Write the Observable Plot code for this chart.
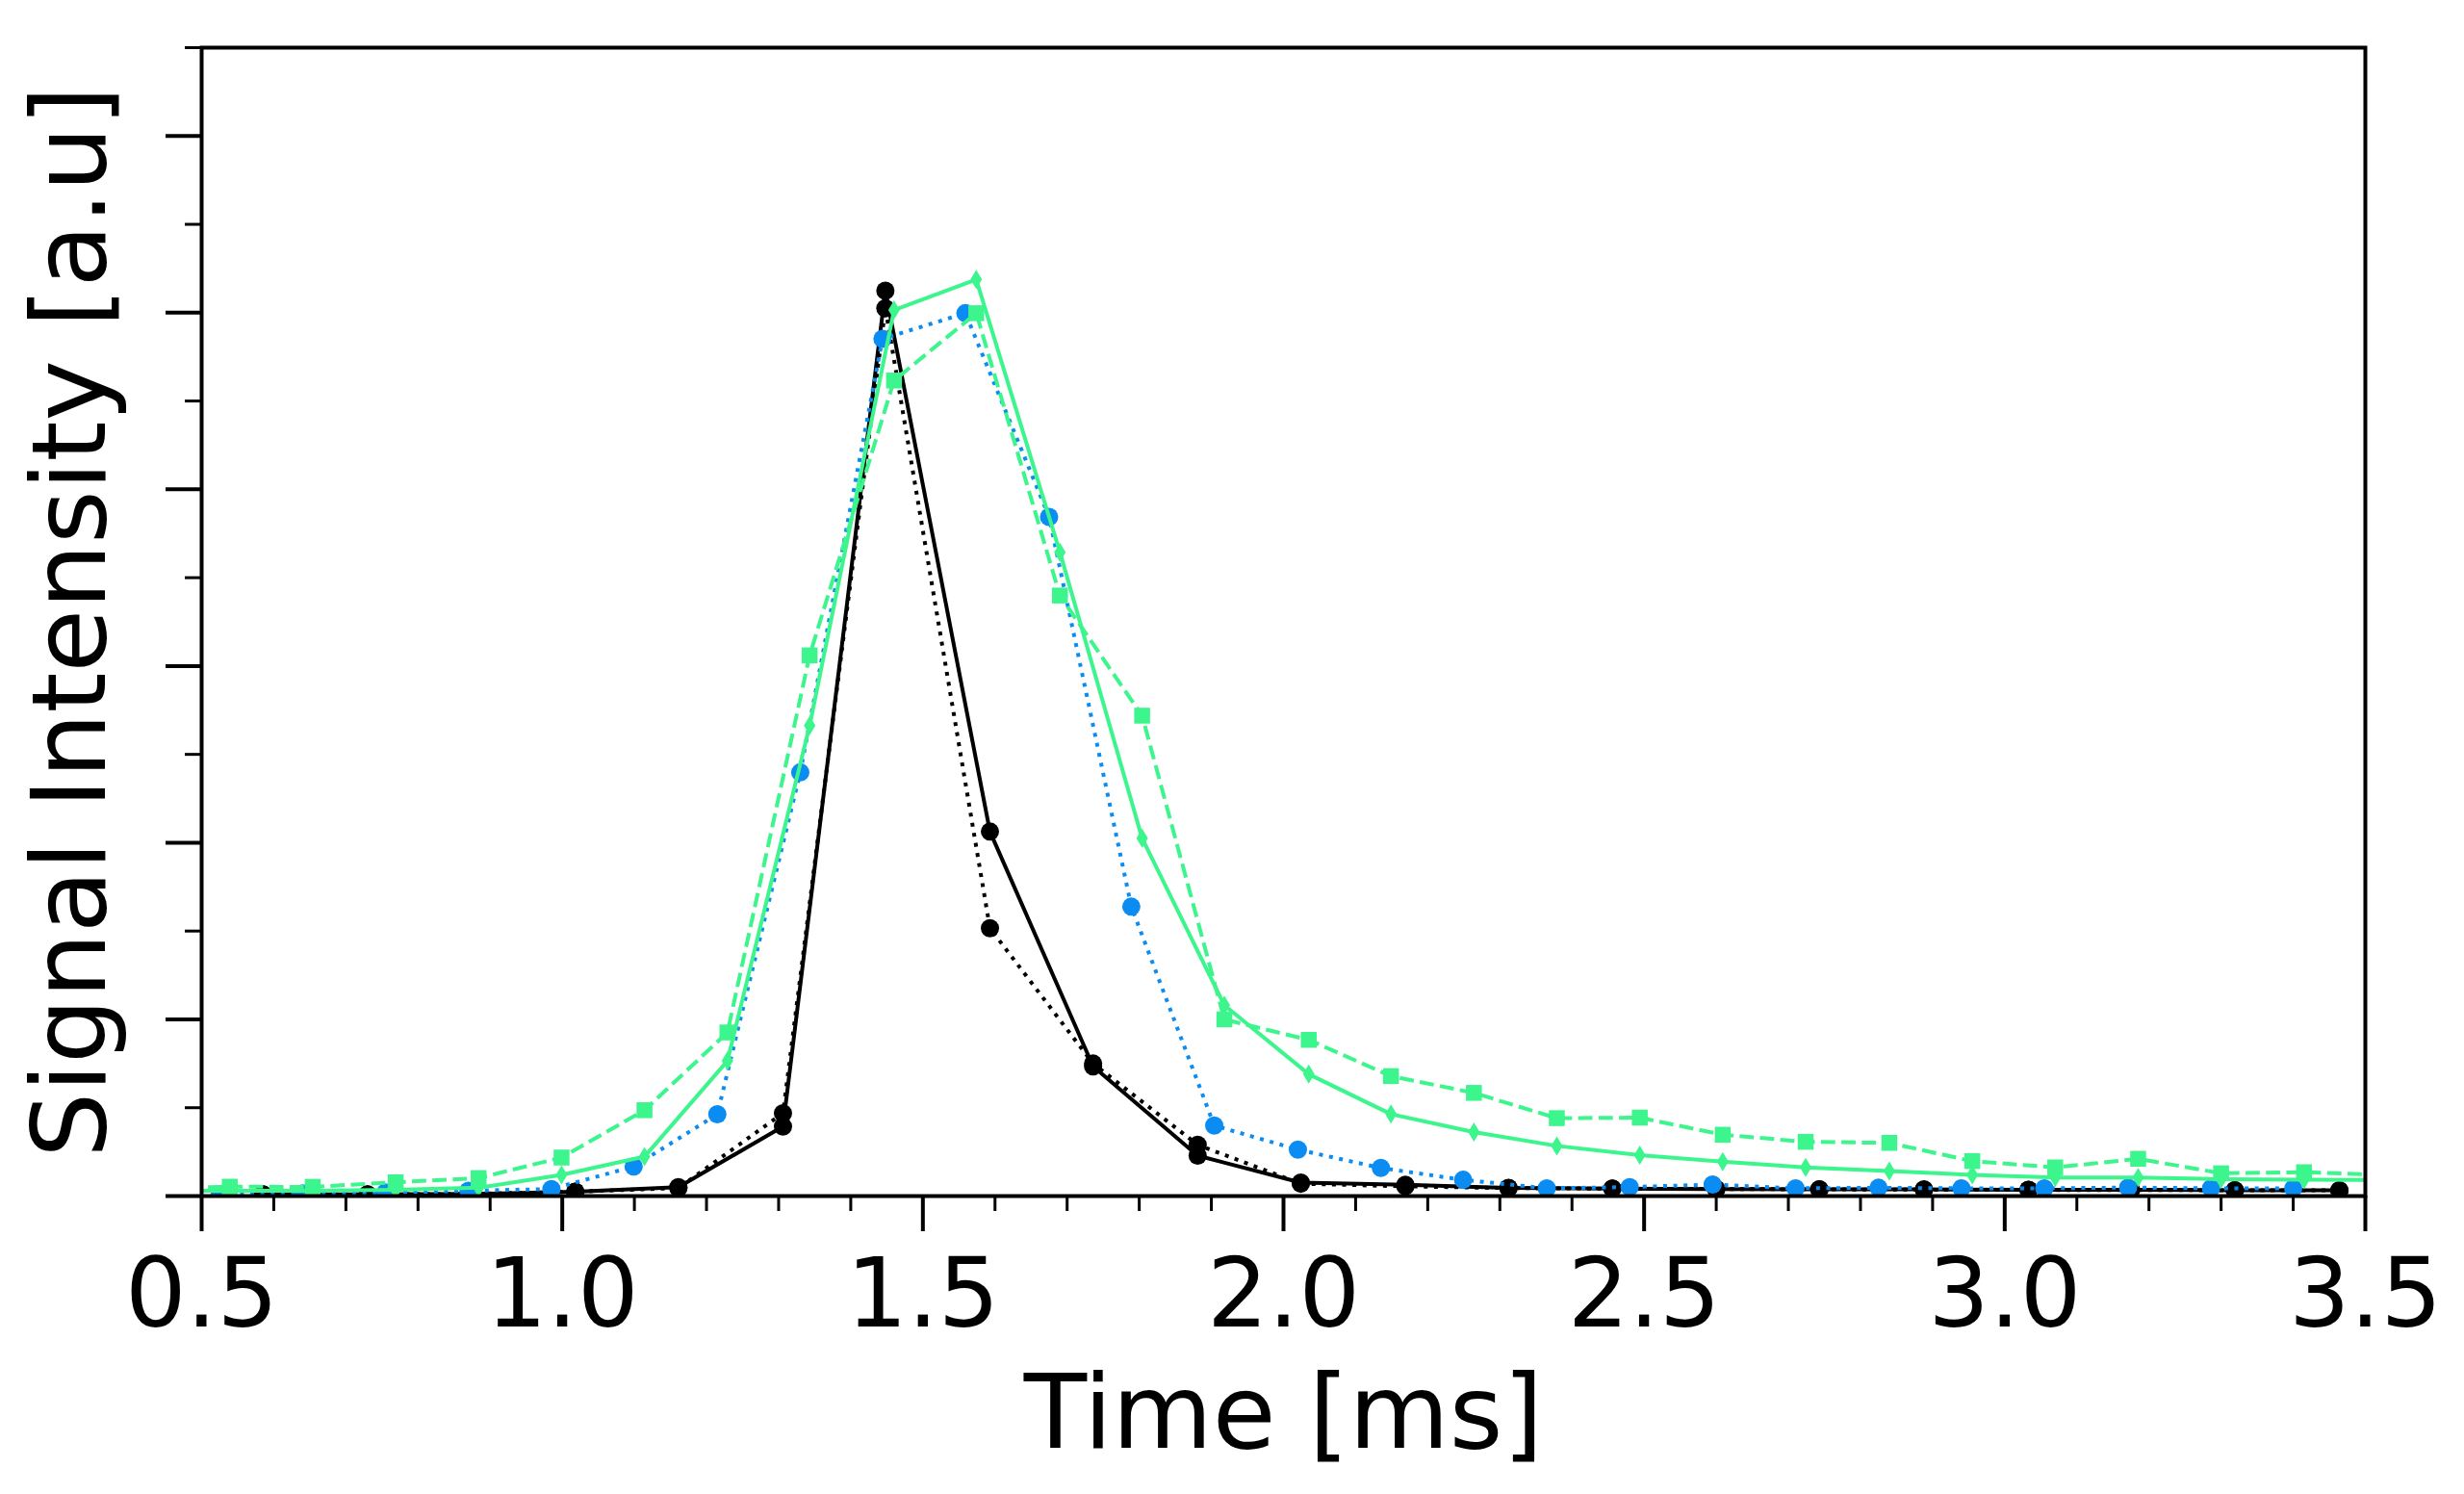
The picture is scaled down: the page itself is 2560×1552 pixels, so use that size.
<!DOCTYPE html>
<html><head><meta charset="utf-8">
<script src="https://cdn.jsdelivr.net/npm/d3@7"></script>
<script src="https://cdn.jsdelivr.net/npm/@observablehq/plot@0.6"></script>
<style>html,body{margin:0;padding:0;background:#fff;} svg{display:block}</style>
</head><body><div id="chart"></div>
<script>
// ---- data ----
const xBlack = [0.585, 0.730, 0.874, 1.018, 1.161, 1.306, 1.448, 1.593, 1.736, 1.881, 2.024, 2.169, 2.312, 2.456, 2.600, 2.743, 2.888, 3.033, 3.175, 3.319, 3.464];
const yBlackSolid = [0.01, 0.01, 0.012, 0.025, 0.05, 0.394, 5.124, 2.063, 0.734, 0.229, 0.076, 0.064, 0.046, 0.042, 0.04, 0.038, 0.038, 0.036, 0.035, 0.033, 0.033];
const yBlackDotted = [0.01, 0.01, 0.012, 0.025, 0.045, 0.469, 5.025, 1.516, 0.75, 0.29, 0.07, 0.055, 0.045, 0.042, 0.04, 0.038, 0.036, 0.035, 0.034, 0.033, 0.032];

const xBlue = [0.525, 0.640, 0.755, 0.870, 0.985, 1.099, 1.215, 1.330, 1.444, 1.559, 1.675, 1.789, 1.904, 2.020, 2.135, 2.249, 2.365, 2.480, 2.595, 2.710, 2.825, 2.940, 3.055, 3.171, 3.286, 3.400];
const yBlue = [0.01, 0.015, 0.02, 0.03, 0.04, 0.167, 0.463, 2.398, 4.852, 4.997, 3.844, 1.638, 0.399, 0.263, 0.159, 0.092, 0.044, 0.051, 0.065, 0.044, 0.047, 0.044, 0.044, 0.048, 0.044, 0.043];

const xGreen = [0.424, 0.539, 0.654, 0.769, 0.884, 0.999, 1.114, 1.229, 1.343, 1.460, 1.574, 1.690, 1.804, 1.918, 2.035, 2.149, 2.264, 2.379, 2.494, 2.609, 2.724, 2.840, 2.955, 3.070, 3.185, 3.300, 3.415, 3.530];
const yGreenDiamond = [0.03, 0.03, 0.03, 0.035, 0.047, 0.12, 0.223, 0.765, 2.663, 5.015, 5.188, 3.644, 2.025, 1.08, 0.69, 0.464, 0.362, 0.284, 0.232, 0.195, 0.162, 0.142, 0.12, 0.105, 0.105, 0.096, 0.093, 0.09];
const yGreenSquare = [0.045, 0.053, 0.052, 0.078, 0.102, 0.218, 0.486, 0.926, 3.06, 4.616, 4.997, 3.399, 2.719, 1.0, 0.884, 0.679, 0.584, 0.441, 0.444, 0.347, 0.307, 0.301, 0.198, 0.162, 0.211, 0.129, 0.135, 0.12];

const xMajorTicks = [0.5, 1.0, 1.5, 2.0, 2.5, 3.0, 3.5];
const yMajorTicks = [0, 1, 2, 3, 4, 5, 6];
const xLabel = "Time [ms]";
const yLabel = "Signal Intensity [a.u]";

const xMinorTicks = d3.range(5, 36).map(d => d / 10).filter(d => !xMajorTicks.some(m => Math.abs(m - d) < 1e-9));
const yMinorTicks = [0.5, 1.5, 2.5, 3.5, 4.5, 5.5, 6.5];

// ---- tables ----
const blackSolid = xBlack.map((x, i) => ({x, y: yBlackSolid[i]}));
const blackDotted = xBlack.map((x, i) => ({x, y: yBlackDotted[i]}));
const blue = xBlue.map((x, i) => ({x, y: yBlue[i]}));
const greenDiamond = xGreen.map((x, i) => ({x, y: yGreenDiamond[i]}));
const greenSquare = xGreen.map((x, i) => ({x, y: yGreenSquare[i]}));

const BLUE = "#0a8cf2";
const GREEN = "#3cf58c";
const LW = 4;
const DASH = `${3.7 * LW},${1.6 * LW}`;
const DOT = `${1 * LW},${1.65 * LW}`;

const thinDiamond = {
  draw(context, size) {
    const r = Math.sqrt(size / Math.PI);
    const w = r * 0.6;
    context.moveTo(0, -r);
    context.lineTo(w, 0);
    context.lineTo(0, r);
    context.lineTo(-w, 0);
    context.closePath();
  }
};

const chart = Plot.plot({
  width: 2560,
  height: 1552,
  marginLeft: 209,
  marginRight: 103,
  marginTop: 49,
  marginBottom: 310,
  style: {fontFamily: "DejaVu Sans", background: "white", color: "black", overflow: "visible"},
  x: {domain: [0.5, 3.5]},
  y: {domain: [0, 6.5]},
  marks: [
    Plot.line(blackSolid, {x: "x", y: "y", stroke: "black", strokeWidth: LW, clip: true}),
    Plot.dot(blackSolid, {x: "x", y: "y", fill: "black", r: 9.5, clip: true}),
    Plot.line(blackDotted, {x: "x", y: "y", stroke: "black", strokeWidth: LW, strokeDasharray: DOT, strokeLinecap: "butt", clip: true}),
    Plot.dot(blackDotted, {x: "x", y: "y", fill: "black", r: 9.5, clip: true}),
    Plot.line(blue, {x: "x", y: "y", stroke: BLUE, strokeWidth: LW, strokeDasharray: DOT, strokeLinecap: "butt", clip: true}),
    Plot.dot(blue, {x: "x", y: "y", fill: BLUE, r: 9.5, clip: true}),
    Plot.line(greenDiamond, {x: "x", y: "y", stroke: GREEN, strokeWidth: LW, clip: true}),
    Plot.dot(greenDiamond, {x: "x", y: "y", fill: GREEN, r: 10, symbol: thinDiamond, clip: true}),
    Plot.line(greenSquare, {x: "x", y: "y", stroke: GREEN, strokeWidth: LW, strokeDasharray: DASH, strokeLinecap: "butt", clip: true}),
    Plot.dot(greenSquare, {x: "x", y: "y", fill: GREEN, r: 9.3, symbol: "square", clip: true}),
    Plot.frame({stroke: "black", strokeWidth: 4}),
    Plot.axisX(xMajorTicks, {tickSize: 37, strokeWidth: 4, tickPadding: 27, fontSize: 100, tickFormat: d => d.toFixed(1), label: null}),
    Plot.axisX(xMinorTicks, {tickSize: 16, strokeWidth: 3, text: null, label: null}),
    Plot.axisY(yMajorTicks, {tickSize: 37, strokeWidth: 4, text: null, label: null}),
    Plot.axisY(yMinorTicks, {tickSize: 17, strokeWidth: 3, text: null, label: null}),
    Plot.text([xLabel], {text: d => d, frameAnchor: "bottom", textAnchor: "middle", lineAnchor: "bottom", dy: 261, fontSize: 107, fill: "black"}),
    Plot.text([yLabel], {text: d => d, frameAnchor: "left", textAnchor: "middle", rotate: -90, lineAnchor: "bottom", dx: -101, fontSize: 107, fill: "black"})
  ]
});
document.getElementById("chart").appendChild(chart);
</script></body></html>
